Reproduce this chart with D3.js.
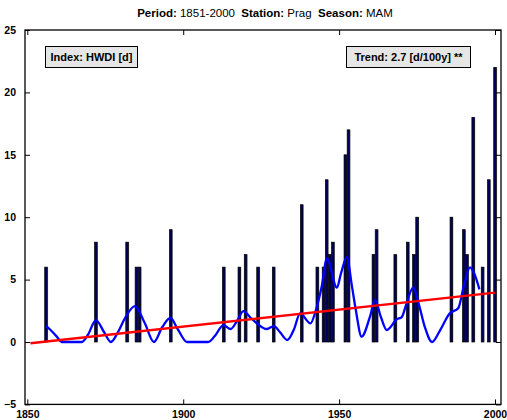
<!DOCTYPE html>
<html>
<head>
<meta charset="utf-8">
<script src="https://cdn.jsdelivr.net/npm/d3@7"></script>
<style>
  body { margin: 0; background: #fff; }
  svg { display: block; font-family: "Liberation Sans", Arial, sans-serif; }
</style>
</head>
<body>
<svg id="chart" width="507" height="420"></svg>
<script>
// ---- Data ----
const barYears  = [1856, 1872, 1882, 1885, 1886, 1896, 1913, 1918, 1920, 1924, 1929, 1938, 1943, 1945, 1946, 1947, 1948, 1952, 1953, 1961, 1962, 1968, 1972, 1974, 1975, 1986, 1990, 1991, 1993, 1996, 1998, 2000];
const barValues = [6, 8, 8, 6, 6, 9, 6, 6, 7, 6, 6, 11, 6, 6, 13, 7, 8, 15, 17, 7, 9, 7, 8, 7, 10, 10, 9, 7, 18, 6, 13, 22];

const smoothYears  = [1856.0, 1857.3, 1859.4, 1861.0, 1867.4, 1869.5, 1872.0, 1874.6, 1876.8, 1879.1, 1881.3, 1884.5, 1887.7, 1890.6, 1893.3, 1895.9, 1898.3, 1901.2, 1908.0, 1910.2, 1912.9, 1915.2, 1917.3, 1919.3, 1921.4, 1923.6, 1926.8, 1929.1, 1931.0, 1933.4, 1935.5, 1937.5, 1940.8, 1942.6, 1944.4, 1946.1, 1949.3, 1950.6, 1952.5, 1954.1, 1955.4, 1957.2, 1959.9, 1961.5, 1963.4, 1965.3, 1968.5, 1970.1, 1971.5, 1973.8, 1975.6, 1977.5, 1979.8, 1982.3, 1985.5, 1988.2, 1990.0, 1992.0, 1993.3, 1995.0];
const smoothValues = [1.3, 1.0, 0.45, 0.0, 0.0, 0.6, 1.76, 0.8, 0.0, 0.8, 1.9, 2.88, 1.5, 0.0, 1.2, 1.93, 1.0, 0.0, 0.0, 0.5, 1.36, 1.04, 1.7, 2.48, 2.0, 1.5, 1.04, 1.28, 0.8, 0.16, 1.0, 2.3, 1.5, 2.6, 4.43, 6.7, 4.35, 5.5, 6.79, 4.5, 2.5, 0.43, 2.03, 3.37, 2.0, 0.96, 1.82, 2.0, 3.0, 4.38, 3.0, 1.2, 0.0, 0.9, 2.3, 2.7, 4.5, 5.98, 5.5, 4.22];

const trendYears  = [1851, 2000];
const trendValues = [-0.1, 3.95];

const xTicks = [1850, 1900, 1950, 2000];
const yTicks = [-5, 0, 5, 10, 15, 20, 25];

const titleParts = [["Period: ", true], ["1851-2000  ", false], ["Station: ", true], ["Prag  ", false], ["Season: ", true], ["MAM", false]];
const indexLabel = "Index: HWDI [d]";
const trendLabel = "Trend: 2.7 [d/100y] **";

// ---- Layout ----
const svg = d3.select("#chart");
const L = 25, R = 501, T = 30, B = 404.4;

const x = d3.scaleLinear().domain([1849.26, 2001.92]).range([L, R]);
const y = d3.scaleLinear().domain([-5, 25]).range([B, T]);

// Title
const title = svg.append("text").attr("x", 265).attr("y", 17).attr("text-anchor", "middle")
  .attr("font-size", 11.5).attr("fill", "#000");
titleParts.forEach(([t, b]) => title.append("tspan").attr("font-weight", b ? "bold" : "normal")
  .attr("xml:space", "preserve").text(t));
title.style("white-space", "pre");

// Bars
const bw = 2.6;
const bars = barYears.map((yr, i) => ({ yr, v: barValues[i] }));
svg.append("g").selectAll("rect").data(bars).join("rect")
  .attr("x", d => x(d.yr) - bw / 2 + 0.8)
  .attr("y", d => y(d.v))
  .attr("width", bw)
  .attr("height", d => y(0) - y(d.v))
  .attr("fill", "#b0b0b0");
svg.append("g").selectAll("rect").data(bars).join("rect")
  .attr("x", d => x(d.yr) - bw / 2)
  .attr("y", d => y(d.v))
  .attr("width", bw)
  .attr("height", d => y(0) - y(d.v))
  .attr("fill", "#00005a")
  .attr("stroke", "#000")
  .attr("stroke-width", 0.7);

// Smoothed curve
const smooth = smoothYears.map((yr, i) => [yr, smoothValues[i]]);
svg.append("path").datum(smooth)
  .attr("fill", "none").attr("stroke", "#0000ff").attr("stroke-width", 2.3)
  .attr("stroke-linejoin", "round")
  .attr("d", d3.line().x(d => x(d[0])).y(d => y(d[1])).curve(d3.curveMonotoneX));

// Trend line
const trend = trendYears.map((yr, i) => [yr, trendValues[i]]);
svg.append("path").datum(trend)
  .attr("fill", "none").attr("stroke", "#ff0000").attr("stroke-width", 2.3)
  .attr("d", d3.line().x(d => x(d[0])).y(d => y(d[1])));

// Axes
const tickLen = 5;
const gB = svg.append("g").attr("transform", `translate(0,${B})`)
  .call(d3.axisBottom(x).tickValues(xTicks).tickSizeInner(-tickLen).tickSizeOuter(0).tickPadding(8).tickFormat(d3.format("d")));
const gT = svg.append("g").attr("transform", `translate(0,${T})`)
  .call(d3.axisTop(x).tickValues(xTicks).tickSizeInner(-tickLen).tickSizeOuter(0).tickFormat(""));
const gL = svg.append("g").attr("transform", `translate(${L},0)`)
  .call(d3.axisLeft(y).tickValues(yTicks).tickSizeInner(-tickLen).tickSizeOuter(0).tickPadding(9).tickFormat(d => d < 0 ? "\u2212" + Math.abs(d) : d));
const gR = svg.append("g").attr("transform", `translate(${R},0)`)
  .call(d3.axisRight(y).tickValues(yTicks).tickSizeInner(-tickLen).tickSizeOuter(0).tickFormat(""));
[gB, gT, gL, gR].forEach(g => {
  g.select(".domain").remove();
  g.selectAll("line").attr("stroke", "#000").attr("stroke-width", 1);
  g.selectAll("text").attr("font-size", 10.5).attr("font-weight", "bold").attr("fill", "#000")
    .attr("font-family", "Liberation Sans, Arial, sans-serif");
});
gB.selectAll("text").attr("dy", "0.55em");

// Frame
svg.append("rect").attr("x", L).attr("y", T).attr("width", R - L).attr("height", B - T)
  .attr("fill", "none").attr("stroke", "#000").attr("stroke-width", 1.3);

// Label boxes
function labelBox(bx, by, bwid, bh, txt) {
  svg.append("rect").attr("x", bx).attr("y", by).attr("width", bwid).attr("height", bh)
    .attr("fill", "#e6e6e6").attr("stroke", "#000").attr("stroke-width", 1);
  svg.append("text").attr("x", bx + bwid / 2).attr("y", by + bh / 2 + 4)
    .attr("text-anchor", "middle").attr("font-size", 11).attr("font-weight", "bold").text(txt);
}
labelBox(45.5, 46.5, 92, 21, indexLabel);
labelBox(346.5, 46.5, 124, 21, trendLabel);
</script>
</body>
</html>
